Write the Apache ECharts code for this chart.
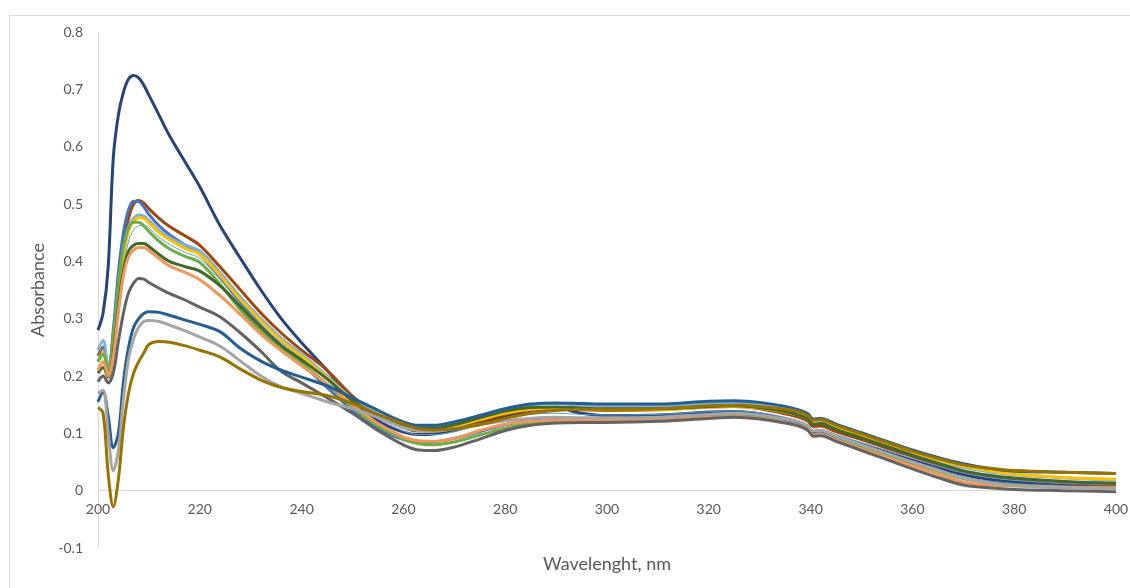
<!DOCTYPE html>
<html><head><meta charset="utf-8">
<script src="https://cdn.jsdelivr.net/npm/echarts@6/dist/echarts.min.js"></script>
<style>html,body{margin:0;padding:0;background:#fff}#c{width:1130px;height:588px}</style>
</head><body><div id="c"></div>
<script>
const wavelengths = [200,201,202,203,204,205,206,207,208,209,210,212,214,217,220,224,228,232,236,240,245,250,255,260,263,266,270,275,280,285,290,295,300,310,320,325,330,335,338,339.5,340.5,342,345,350,355,360,365,370,375,380,390,400];

const sNavy = [.28,.31,.39,.58,.655,.695,.718,.724,.72,.707,.69,.655,.62,.575,.53,.462,.405,.35,.3,.258,.21,.158,.122,.102,.098,.099,.105,.118,.13,.14,.144,.135,.131,.132,.137,.138,.134,.125,.117,.112,.103,.104,.095,.081,.067,.053,.04,.028,.02,.015,.009,.006];
const sBrown = [.235,.25,.215,.27,.36,.43,.475,.5,.506,.502,.492,.475,.461,.445,.428,.39,.35,.31,.275,.245,.21,.165,.13,.11,.104,.104,.109,.121,.133,.141,.143,.141,.14,.141,.146,.147,.143,.134,.127,.121,.112,.113,.103,.089,.074,.06,.046,.033,.025,.02,.014,.01];
const sBlue = [.225,.24,.205,.28,.38,.45,.49,.505,.504,.495,.482,.462,.447,.429,.412,.372,.328,.288,.252,.222,.18,.14,.108,.089,.084,.085,.091,.103,.115,.123,.126,.125,.125,.126,.131,.132,.128,.12,.113,.107,.098,.099,.09,.076,.062,.048,.035,.022,.015,.011,.007,.005];
const sLightBlue = [.245,.262,.215,.26,.35,.42,.46,.475,.481,.479,.471,.454,.442,.429,.418,.38,.338,.3,.266,.238,.2,.16,.133,.117,.113,.113,.119,.131,.143,.15,.152,.149,.147,.147,.152,.153,.15,.142,.135,.129,.12,.121,.111,.096,.081,.067,.053,.041,.033,.028,.022,.018];
const sGold = [.225,.24,.205,.25,.34,.41,.452,.47,.476,.475,.467,.45,.438,.423,.412,.375,.333,.296,.262,.234,.197,.158,.13,.112,.107,.107,.112,.124,.135,.142,.144,.142,.141,.141,.146,.147,.144,.137,.131,.125,.117,.118,.109,.095,.081,.067,.054,.043,.035,.029,.023,.02];
const sThinBlue = [.235,.25,.21,.24,.32,.39,.435,.455,.462,.463,.458,.442,.43,.416,.405,.368,.326,.29,.258,.23,.193,.155,.125,.104,.098,.098,.103,.115,.126,.133,.135,.133,.132,.133,.138,.139,.136,.128,.121,.115,.106,.107,.098,.084,.07,.056,.043,.031,.023,.018,.013,.01];
const sGreen = [.225,.238,.21,.27,.36,.425,.458,.468,.468,.462,.452,.435,.422,.409,.398,.36,.315,.278,.248,.222,.186,.145,.113,.09,.082,.08,.085,.097,.109,.117,.12,.12,.121,.122,.128,.13,.127,.119,.112,.106,.097,.098,.089,.075,.061,.047,.034,.021,.014,.01,.006,.004];
const sDarkGreen = [.205,.215,.198,.24,.32,.385,.418,.428,.431,.431,.426,.412,.4,.391,.383,.357,.321,.285,.253,.228,.195,.157,.13,.113,.109,.109,.115,.127,.139,.145,.146,.144,.143,.143,.147,.148,.145,.138,.131,.125,.116,.117,.107,.092,.077,.062,.048,.035,.027,.022,.016,.013];
const sOrange = [.21,.225,.2,.235,.31,.375,.408,.42,.424,.424,.419,.405,.392,.381,.368,.34,.307,.273,.244,.218,.186,.15,.117,.094,.087,.086,.091,.105,.116,.121,.123,.123,.123,.124,.128,.129,.126,.119,.113,.107,.097,.098,.088,.073,.058,.043,.029,.015,.01,.008,.006,.005];
const sDarkGray = [.19,.2,.188,.205,.26,.31,.345,.362,.37,.369,.363,.353,.344,.333,.32,.303,.275,.243,.208,.188,.162,.135,.105,.08,.071,.07,.076,.09,.105,.114,.118,.119,.119,.121,.126,.128,.125,.118,.112,.105,.095,.096,.086,.07,.054,.038,.023,.01,.005,.002,0,-.002];
const sSteelBlue = [.155,.172,.13,.075,.1,.19,.25,.285,.3,.309,.312,.311,.306,.298,.29,.277,.248,.226,.21,.198,.183,.162,.14,.12,.114,.114,.12,.131,.143,.151,.153,.152,.151,.151,.156,.157,.154,.147,.14,.134,.125,.126,.116,.101,.086,.071,.058,.047,.039,.034,.032,.03];
const sGray = [.17,.175,.1,.035,.07,.16,.23,.265,.285,.295,.297,.295,.289,.279,.268,.252,.226,.2,.181,.17,.155,.143,.128,.11,.105,.104,.108,.115,.122,.126,.128,.127,.127,.128,.133,.135,.132,.125,.119,.113,.104,.105,.095,.08,.065,.05,.036,.022,.014,.009,.005,.003];
const sOlive = [.145,.135,.03,-.028,.02,.11,.17,.205,.225,.24,.255,.26,.259,.253,.245,.233,.212,.193,.18,.173,.166,.152,.133,.117,.108,.106,.108,.115,.126,.135,.14,.142,.142,.143,.148,.149,.147,.142,.137,.131,.123,.124,.114,.099,.084,.069,.056,.045,.039,.035,.032,.03];

const xTicks = [200,220,240,260,280,300,320,340,360,380,400];
const yTicks = [-0.1,0,0.1,0.2,0.3,0.4,0.5,0.6,0.7,0.8];

const seriesDefs = [
  ['Navy', sNavy, '#264478', 3],
  ['Brown', sBrown, '#9E480E', 3],
  ['Blue', sBlue, '#4472C4', 3],
  ['LightBlue', sLightBlue, '#7CAFDD', 3],
  ['Gold', sGold, '#FFC000', 3],
  ['ThinBlue', sThinBlue, '#5B9BD5', 1],
  ['Green', sGreen, '#70AD47', 3],
  ['DarkGreen', sDarkGreen, '#43682B', 3],
  ['Orange', sOrange, '#F1975A', 3],
  ['DarkGray', sDarkGray, '#636363', 3],
  ['SteelBlue', sSteelBlue, '#255E91', 3],
  ['Gray', sGray, '#A5A5A5', 3],
  ['Olive', sOlive, '#997300', 3]
];

const chart = echarts.init(document.getElementById('c'), null, {renderer:'canvas'});
const font = 'Lato, "Open Sans", sans-serif';
chart.setOption({
  animation:false,
  backgroundColor:'#fff',
  textStyle:{fontFamily:font},
  graphic:[{type:'rect', shape:{x:9.5,y:15.5,width:1200,height:700}, style:{fill:'none', stroke:'#d9d9d9', lineWidth:1}, silent:true, z:-10}],
  grid:{left:98, right:14, top:32, bottom:40, containLabel:false, outerBoundsMode:'none'},
  xAxis:{type:'value', min:200, max:400, interval:20, position:'bottom', offset:-58,
    name:'Wavelenght, nm', nameLocation:'middle', nameGap:65,
    nameTextStyle:{fontSize:18, color:'#595959', fontFamily:font},
    axisLine:{show:true, onZero:false, lineStyle:{color:'#d9d9d9', width:1}},
    axisTick:{show:false}, splitLine:{show:false},
    axisLabel:{margin:12, fontSize:14, color:'#595959', fontFamily:font,
      customValues: xTicks}},
  yAxis:{type:'value', min:-0.1, max:0.8, interval:0.1,
    name:'Absorbance', nameLocation:'middle', nameGap:49,
    nameTextStyle:{fontSize:18, color:'#595959', fontFamily:font},
    axisLine:{show:true, onZero:false, lineStyle:{color:'#d9d9d9', width:1}},
    axisTick:{show:false}, splitLine:{show:false},
    axisLabel:{margin:15, fontSize:14, color:'#595959', fontFamily:font,
      formatter:v=>{const r=Math.round(v*10)/10; return r===0?'0':String(r);}}},
  series: seriesDefs.map(([n,d,c,w])=>({
    name:n, type:'line', showSymbol:false, symbol:'none', smooth:0.35,
    data: wavelengths.map((x,i)=>[x,d[i]]),
    lineStyle:{color:c, width:w}, itemStyle:{color:c}
  }))
});
</script></body></html>
